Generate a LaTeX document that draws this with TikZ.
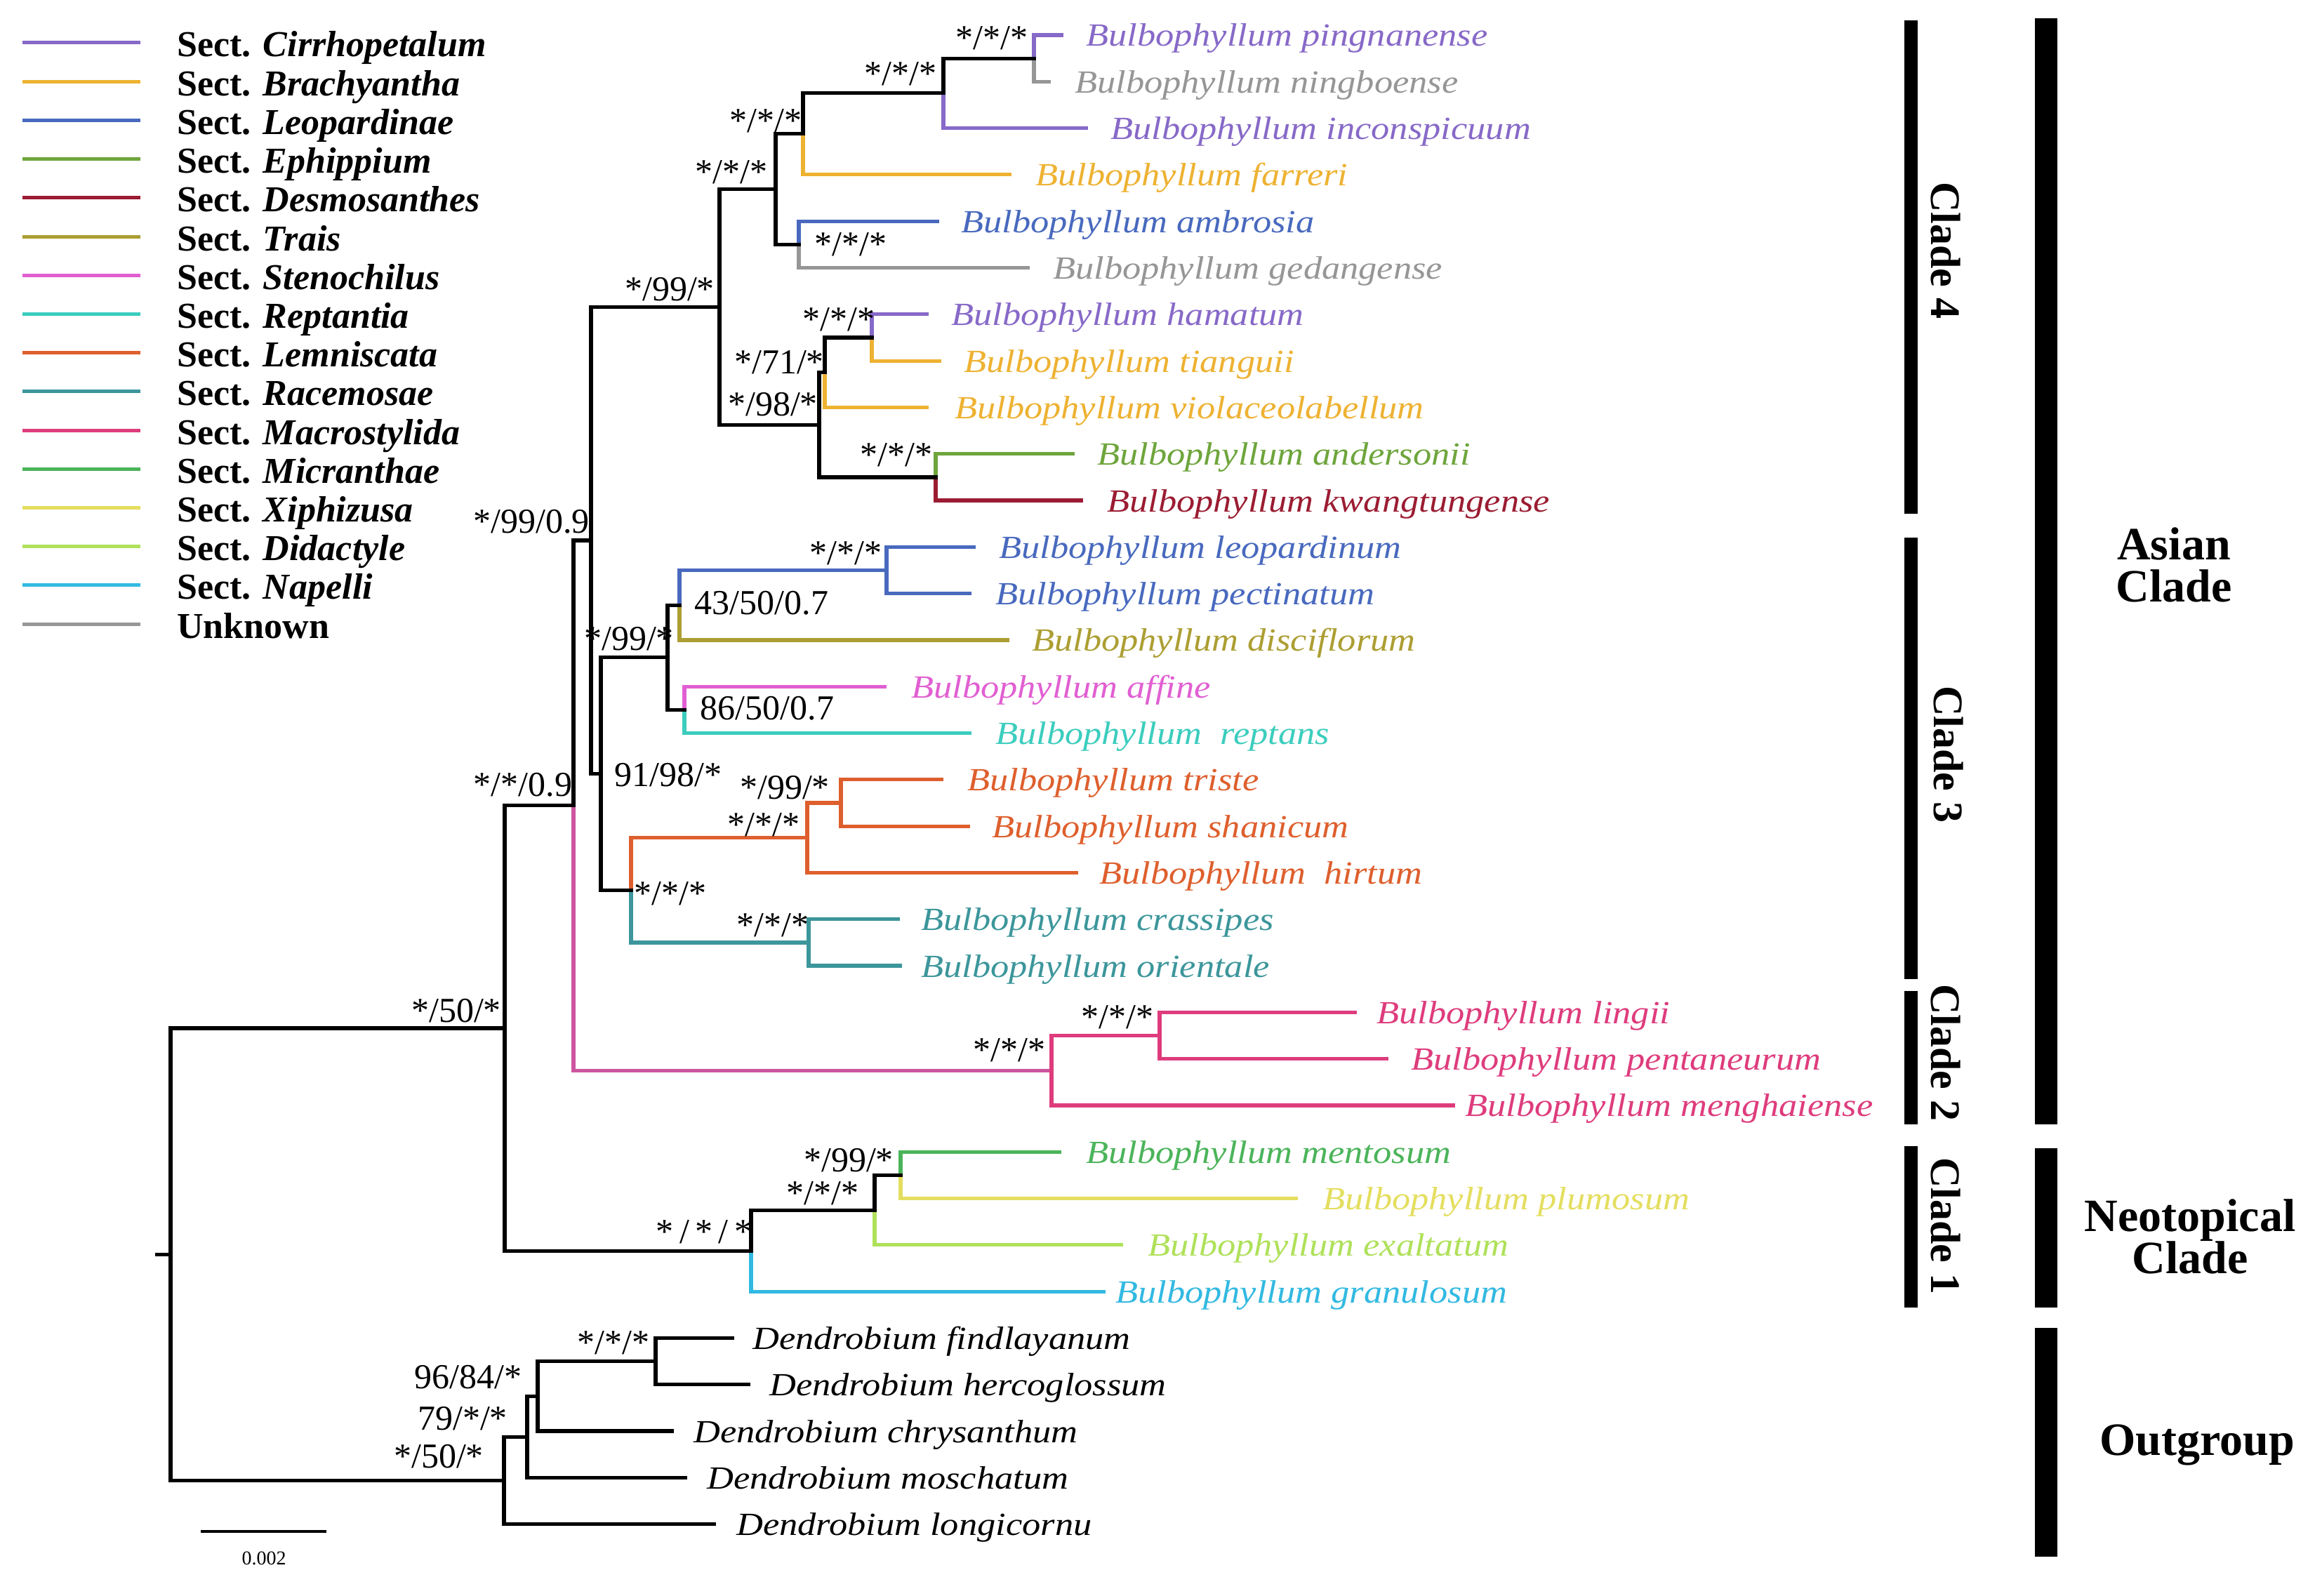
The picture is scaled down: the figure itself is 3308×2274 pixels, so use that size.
\documentclass[tikz,border=0pt]{standalone}
\usepackage{fontspec}
\setmainfont{Liberation Serif}
\newfontfamily\leaffont[FakeStretch=1.14]{Liberation Serif}
\usetikzlibrary{calc}
\definecolor{cirr}{RGB}{135,105,200}
\definecolor{brach}{RGB}{238,178,50}
\definecolor{leop}{RGB}{72,105,190}
\definecolor{ephip}{RGB}{110,165,60}
\definecolor{desmo}{RGB}{155,28,50}
\definecolor{trais}{RGB}{172,158,50}
\definecolor{steno}{RGB}{225,95,210}
\definecolor{rept}{RGB}{60,205,190}
\definecolor{lemn}{RGB}{222,95,45}
\definecolor{race}{RGB}{60,150,155}
\definecolor{macro}{RGB}{222,60,125}
\definecolor{macrob}{RGB}{205,85,160}
\definecolor{micr}{RGB}{75,180,90}
\definecolor{xiph}{RGB}{228,222,95}
\definecolor{dida}{RGB}{175,225,90}
\definecolor{nape}{RGB}{50,185,225}
\definecolor{unk}{RGB}{150,150,150}
\newcommand\mkleaf[6]{%
  \coordinate (t#1) at (#2,#3);
  \node[lf,text=#5] (n#1) at (#4,#3+16) {#6};}
\begin{document}
\begin{tikzpicture}[x=1pt,y=-1pt,
  br/.style={line width=5.2pt,line cap=rect},
  lf/.style={anchor=base west,inner sep=0pt,font=\fontsize{46}{46}\leaffont\itshape},
  supp/.style={inner sep=0pt,font=\fontsize{50}{50}\selectfont},
  lgline/.style={line width=5pt},
  lgtext/.style={anchor=base west,inner sep=0pt,font=\fontsize{52}{52}\selectfont\bfseries},
  cladetxt/.style={rotate=-90,inner sep=0pt,font=\fontsize{60}{60}\selectfont\bfseries},
  bigtxt/.style={align=center,inner sep=0pt,font=\fontsize{66}{60}\selectfont\bfseries}]
\useasboundingbox (0,0) rectangle (3308,2274);
\fill[white] (0,0) rectangle (3308,2274);

% ---------- legend ----------
\foreach \c/\n [count=\i from 0] in {cirr/Cirrhopetalum,brach/Brachyantha,leop/Leopardinae,ephip/Ephippium,desmo/Desmosanthes,trais/Trais,steno/Stenochilus,rept/Reptantia,lemn/Lemniscata,race/Racemosae,macro/Macrostylida,micr/Micranthae,xiph/Xiphizusa,dida/Didactyle,nape/Napelli}{
  \draw[lgline,\c] (32,61+55.2*\i) -- (200,61+55.2*\i);
  \node[lgtext] (lg\i) at (252,81+55.2*\i) {Sect. \textit{\n}};
}
\draw[lgline,unk] (32,889) -- (200,889);
\node[lgtext] (lg15) at (252,909) {Unknown};

% ---------- leaves ----------
\mkleaf{0}{1512}{50}{1547}{cirr}{Bulbophyllum pingnanense}
\mkleaf{1}{1494}{116.3}{1531}{unk}{Bulbophyllum ningboense}
\mkleaf{2}{1547}{182.6}{1582}{cirr}{Bulbophyllum inconspicuum}
\mkleaf{3}{1438}{248.9}{1475}{brach}{Bulbophyllum farreri}
\mkleaf{4}{1335}{315.2}{1369}{leop}{Bulbophyllum ambrosia}
\mkleaf{5}{1464}{381.5}{1500}{unk}{Bulbophyllum gedangense}
\mkleaf{6}{1320}{447.8}{1355}{cirr}{Bulbophyllum hamatum}
\mkleaf{7}{1338}{514.1}{1373}{brach}{Bulbophyllum tianguii}
\mkleaf{8}{1320}{580.4}{1360}{brach}{Bulbophyllum violaceolabellum}
\mkleaf{9}{1528}{646.7}{1563}{ephip}{Bulbophyllum andersonii}
\mkleaf{10}{1540}{713}{1577}{desmo}{Bulbophyllum kwangtungense}
\mkleaf{11}{1387}{779.3}{1423}{leop}{Bulbophyllum leopardinum}
\mkleaf{12}{1381}{845.6}{1418}{leop}{Bulbophyllum pectinatum}
\mkleaf{13}{1435}{911.9}{1470}{trais}{Bulbophyllum disciflorum}
\mkleaf{14}{1260}{978.2}{1298}{steno}{Bulbophyllum affine}
\mkleaf{15}{1381}{1044.5}{1418}{rept}{Bulbophyllum\ \ reptans}
\mkleaf{16}{1341}{1110.8}{1378}{lemn}{Bulbophyllum triste}
\mkleaf{17}{1379}{1177.1}{1413}{lemn}{Bulbophyllum shanicum}
\mkleaf{18}{1533}{1243.4}{1566}{lemn}{Bulbophyllum\ \ hirtum}
\mkleaf{19}{1279}{1309.7}{1312}{race}{Bulbophyllum crassipes}
\mkleaf{20}{1282}{1376}{1312}{race}{Bulbophyllum orientale}
\mkleaf{21}{1930}{1442.3}{1961}{macro}{Bulbophyllum lingii}
\mkleaf{22}{1975}{1508.6}{2010}{macro}{Bulbophyllum pentaneurum}
\mkleaf{23}{2070}{1574.9}{2087}{macro}{Bulbophyllum menghaiense}
\mkleaf{24}{1509}{1641.2}{1547}{micr}{Bulbophyllum mentosum}
\mkleaf{25}{1846}{1707.5}{1884}{xiph}{Bulbophyllum plumosum}
\mkleaf{26}{1597}{1773.8}{1635}{dida}{Bulbophyllum exaltatum}
\mkleaf{27}{1572}{1840.1}{1589}{nape}{Bulbophyllum granulosum}
\mkleaf{28}{1043}{1906.4}{1072}{black}{Dendrobium findlayanum}
\mkleaf{29}{1066}{1972.7}{1096}{black}{Dendrobium hercoglossum}
\mkleaf{30}{957}{2039}{988}{black}{Dendrobium chrysanthum}
\mkleaf{31}{976}{2105.3}{1007}{black}{Dendrobium moschatum}
\mkleaf{32}{1017}{2171.6}{1049}{black}{Dendrobium longicornu}

% ---------- internal nodes ----------
\coordinate (A) at (1473,83.2);
\coordinate (B) at (1344,132.9);
\coordinate (C) at (1144,190.9);
\coordinate (E) at (1138,348.4);
\coordinate (D) at (1105,269.6);
\coordinate (J) at (1242,481);
\coordinate (K) at (1175,530.7);
\coordinate (L) at (1333,679.9);
\coordinate (G) at (1167,605.3);
\coordinate (F) at (1025,437.5);
\coordinate (U) at (1263,812.5);
\coordinate (T) at (968,862.2);
\coordinate (V) at (975,1011.4);
\coordinate (S) at (951,936.8);
\coordinate (Y) at (1198,1144);
\coordinate (X) at (1150,1193.7);
\coordinate (Z) at (1152,1342.9);
\coordinate (W) at (899,1268.3);
\coordinate (P) at (856,1102.6);
\coordinate (N1) at (842,770);
\coordinate (Q2) at (1652,1475.5);
\coordinate (Q1) at (1498,1525.2);
\coordinate (N2) at (817,1147.6);
\coordinate (C3) at (1283,1674.4);
\coordinate (C2) at (1246,1724.1);
\coordinate (C1) at (1070,1782.1);
\coordinate (R2) at (719,1464.9);
\coordinate (O4) at (934,1939.6);
\coordinate (O3) at (766,1989.3);
\coordinate (O2) at (751,2047.3);
\coordinate (O1) at (718,2109.5);
\coordinate (R) at (243,1787.2);
\coordinate (R0) at (224,1787.2);

% ---------- branches ----------
\draw[br,cirr] (A) |- (t0);
\draw[br,unk] (A) |- (t1);
\draw[br,cirr] (B) |- (t2);
\draw[br,brach] (C) |- (t3);
\draw[br,leop] (E) |- (t4);
\draw[br,unk] (E) |- (t5);
\draw[br,cirr] (J) |- (t6);
\draw[br,brach] (J) |- (t7);
\draw[br,brach] (K) |- (t8);
\draw[br,ephip] (L) |- (t9);
\draw[br,desmo] (L) |- (t10);
\draw[br,leop] (T) |- (U);
\draw[br,leop] (U) |- (t11);
\draw[br,leop] (U) |- (t12);
\draw[br,trais] (T) |- (t13);
\draw[br,steno] (V) |- (t14);
\draw[br,rept] (V) |- (t15);
\draw[br,lemn] (W) |- (X);
\draw[br,lemn] (X) |- (Y);
\draw[br,lemn] (Y) |- (t16);
\draw[br,lemn] (Y) |- (t17);
\draw[br,lemn] (X) |- (t18);
\draw[br,race] (W) |- (Z);
\draw[br,race] (Z) |- (t19);
\draw[br,race] (Z) |- (t20);
\draw[br,macrob] (N2) |- (Q1);
\draw[br,macro] (Q1) |- (Q2);
\draw[br,macro] (Q2) |- (t21);
\draw[br,macro] (Q2) |- (t22);
\draw[br,macro] (Q1) |- (t23);
\draw[br,micr] (C3) |- (t24);
\draw[br,xiph] (C3) |- (t25);
\draw[br,dida] (C2) |- (t26);
\draw[br,nape] (C1) |- (t27);
\foreach \p/\c in {B/A,C/B,D/C,D/E,F/D,F/G,G/K,G/L,K/J,N1/F,N1/P,P/S,P/W,S/T,S/V,N2/N1,R2/N2,R2/C1,C1/C2,C2/C3,R/R2,R/O1,O1/O2,O2/O3,O3/O4,O4/t28,O4/t29,O3/t30,O2/t31,O1/t32}
  \draw[br,black] (\p) |- (\c);
\draw[br,black] (R0) -- (R);

% ---------- support values ----------
\node[supp] (s1) at (1413,54) {*/*/*};
\node[supp] (s2) at (1283,105) {*/*/*};
\node[supp] (s3) at (1091,172) {*/*/*};
\node[supp] (s4) at (1042,245) {*/*/*};
\node[supp] (s5) at (954,412) {*/99/*};
\node[supp] (s6) at (1212,348) {*/*/*};
\node[supp] (s7) at (1195,455) {*/*/*};
\node[supp] (s8) at (1110,516) {*/71/*};
\node[supp] (s9) at (1101,576) {*/98/*};
\node[supp] (s10) at (1277,648) {*/*/*};
\node[supp] (s11) at (757,743) {*/99/0.9};
\node[supp] (s12) at (1205,788) {*/*/*};
\node[supp] (s13) at (1085,859) {43/50/0.7};
\node[supp] (s14) at (896,910) {*/99/*};
\node[supp] (s15) at (1093,1009) {86/50/0.7};
\node[supp] (s16) at (952,1104) {91/98/*};
\node[supp] (s17) at (745,1118) {*/*/0.9};
\node[supp] (s18) at (1118,1122) {*/99/*};
\node[supp] (s19) at (1088,1175) {*/*/*};
\node[supp] (s20) at (955,1273) {*/*/*};
\node[supp] (s21) at (1101,1318) {*/*/*};
\node[supp] (s22) at (1592,1449) {*/*/*};
\node[supp] (s23) at (1438,1496) {*/*/*};
\node[supp] (s24) at (650,1440) {*/50/*};
\node[supp] (s25) at (1209,1653) {*/99/*};
\node[supp] (s26) at (1172,1700) {*/*/*};
\node[supp] (s27) at (1003,1755) {*\,/\,*\,/\,*};
\node[supp] (s28) at (874,1913) {*/*/*};
\node[supp] (s29) at (667,1962) {96/84/*};
\node[supp] (s30) at (659,2021) {79/*/*};
\node[supp] (s31) at (625,2075) {*/50/*};

% ---------- scale bar ----------
\coordinate (sb1) at (286,2182);
\coordinate (sb2) at (465,2182);
\draw[line width=4.5pt] (sb1) -- (sb2);
\node[inner sep=0pt,font=\fontsize{28}{28}\selectfont] (sbt) at (376,2220) {0.002};

% ---------- clade bars ----------
\fill (2713,29) rectangle (2732,732);
\fill (2713,766) rectangle (2732,1395);
\fill (2713,1412) rectangle (2732,1602);
\fill (2713,1633) rectangle (2732,1863);
\node[cladetxt] (cl4) at (2772,357) {Clade 4};
\node[cladetxt] (cl3) at (2776,1075) {Clade 3};
\node[cladetxt] (cl2) at (2772,1500) {Clade 2};
\node[cladetxt] (cl1) at (2772,1747) {Clade 1};

\fill (2899,26) rectangle (2931,1602);
\fill (2899,1636) rectangle (2931,1863);
\fill (2899,1892) rectangle (2931,2218);
\node[bigtxt] (asia) at (3097,805) {Asian\\Clade};
\node[bigtxt] (neo) at (3120,1762) {Neotopical\\Clade};
\node[bigtxt] (out) at (3130,2059) {Outgroup};
\end{tikzpicture}
\end{document}
